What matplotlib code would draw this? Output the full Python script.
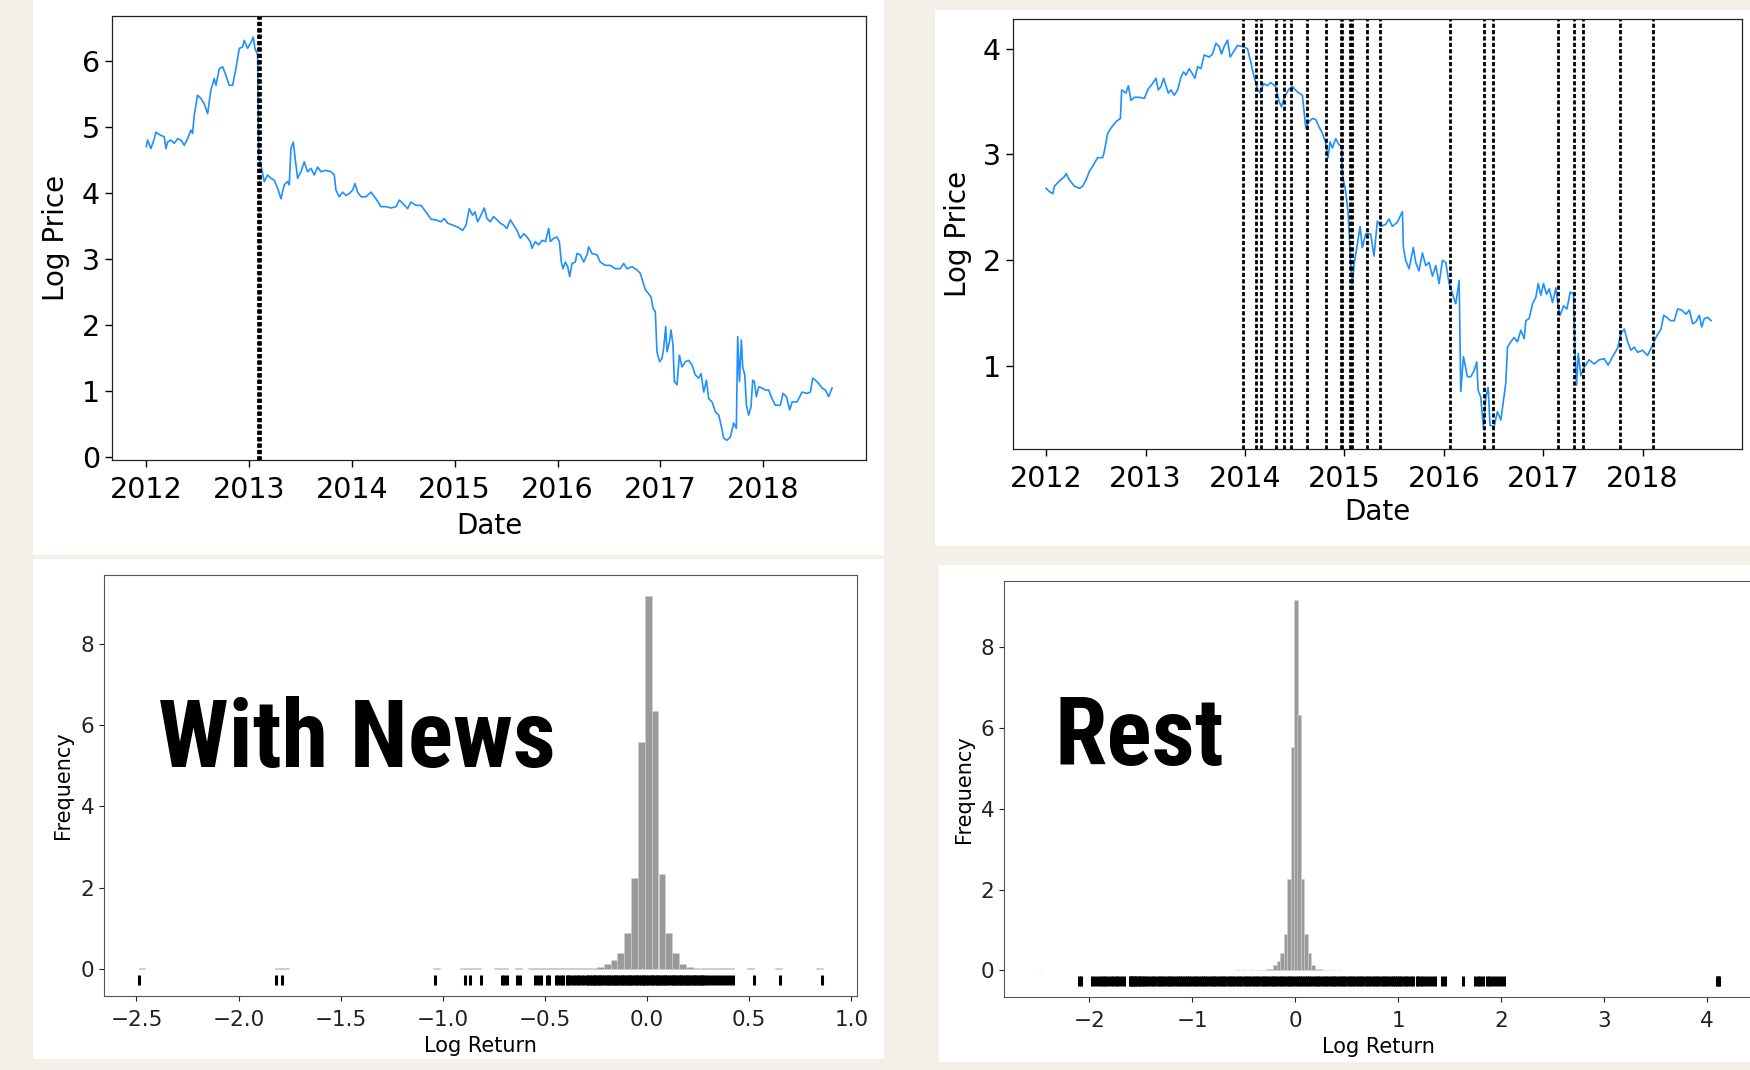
import matplotlib
matplotlib.use("Agg")
import matplotlib.pyplot as plt
from matplotlib.patches import Rectangle
from matplotlib import font_manager

W, H = 1750, 1070

# price path for the coin with one news day (decimal years, log price)
news_years = [2012.000, 2012.013, 2012.045, 2012.078, 2012.094, 2012.110, 2012.143, 2012.175,
              2012.191, 2012.208, 2012.240, 2012.272, 2012.305, 2012.337, 2012.370, 2012.402,
              2012.434, 2012.451, 2012.467, 2012.499, 2012.532, 2012.564, 2012.597, 2012.629,
              2012.661, 2012.678, 2012.710, 2012.743, 2012.775, 2012.807, 2012.840, 2012.872,
              2012.905, 2012.937, 2012.953, 2012.986, 2013.018, 2013.041, 2013.057, 2013.083,
              2013.093, 2013.115, 2013.148, 2013.180, 2013.213, 2013.245, 2013.278, 2013.310,
              2013.342, 2013.375, 2013.391, 2013.407, 2013.430, 2013.456, 2013.472, 2013.505,
              2013.537, 2013.569, 2013.602, 2013.634, 2013.667, 2013.699, 2013.748, 2013.796,
              2013.829, 2013.845, 2013.877, 2013.910, 2013.942, 2013.975, 2014.007, 2014.030,
              2014.056, 2014.088, 2014.137, 2014.186, 2014.234, 2014.283, 2014.331, 2014.380,
              2014.429, 2014.461, 2014.494, 2014.542, 2014.575, 2014.623, 2014.672, 2014.720,
              2014.769, 2014.818, 2014.866, 2014.899, 2014.931, 2014.980, 2015.029, 2015.077,
              2015.110, 2015.142, 2015.174, 2015.197, 2015.223, 2015.249, 2015.288, 2015.314,
              2015.346, 2015.379, 2015.411, 2015.444, 2015.476, 2015.508, 2015.541, 2015.573,
              2015.606, 2015.638, 2015.671, 2015.703, 2015.735, 2015.752, 2015.784, 2015.817,
              2015.849, 2015.882, 2015.914, 2015.930, 2015.962, 2015.995, 2016.018, 2016.037,
              2016.053, 2016.076, 2016.099, 2016.118, 2016.141, 2016.173, 2016.189, 2016.222,
              2016.254, 2016.287, 2016.303, 2016.335, 2016.384, 2016.416, 2016.465, 2016.514,
              2016.562, 2016.611, 2016.643, 2016.676, 2016.724, 2016.773, 2016.805, 2016.831,
              2016.854, 2016.886, 2016.909, 2016.929, 2016.951, 2016.967, 2016.993, 2017.016,
              2017.032, 2017.052, 2017.065, 2017.088, 2017.104, 2017.123, 2017.136, 2017.162,
              2017.185, 2017.211, 2017.243, 2017.276, 2017.308, 2017.340, 2017.373, 2017.396,
              2017.422, 2017.448, 2017.470, 2017.503, 2017.535, 2017.568, 2017.590, 2017.616,
              2017.649, 2017.681, 2017.713, 2017.739, 2017.752, 2017.769, 2017.788, 2017.801,
              2017.821, 2017.837, 2017.859, 2017.882, 2017.898, 2017.914, 2017.934, 2017.957,
              2017.989, 2018.021, 2018.054, 2018.086, 2018.119, 2018.167, 2018.193, 2018.226,
              2018.258, 2018.281, 2018.329, 2018.378, 2018.427, 2018.459, 2018.482, 2018.508,
              2018.540, 2018.573, 2018.605, 2018.637, 2018.670]
news_price = [4.70, 4.80, 4.67, 4.82, 4.92, 4.90, 4.87, 4.85,
              4.67, 4.77, 4.80, 4.75, 4.82, 4.80, 4.72, 4.82,
              4.95, 4.90, 5.18, 5.48, 5.43, 5.35, 5.20, 5.56,
              5.73, 5.63, 5.88, 5.91, 5.78, 5.63, 5.63, 5.88,
              6.19, 6.21, 6.31, 6.19, 6.28, 6.36, 6.19, 6.09,
              4.57, 4.42, 4.17, 4.27, 4.22, 4.19, 4.07, 3.91,
              4.12, 4.17, 4.12, 4.67, 4.77, 4.42, 4.22, 4.32,
              4.47, 4.32, 4.37, 4.27, 4.39, 4.32, 4.34, 4.32,
              4.27, 4.04, 3.94, 4.01, 3.96, 3.99, 4.04, 4.14,
              4.01, 3.94, 3.94, 4.01, 3.91, 3.79, 3.79, 3.77,
              3.79, 3.89, 3.84, 3.76, 3.86, 3.81, 3.81, 3.71,
              3.60, 3.59, 3.56, 3.61, 3.54, 3.51, 3.48, 3.43,
              3.51, 3.76, 3.66, 3.71, 3.56, 3.64, 3.77, 3.61,
              3.56, 3.64, 3.59, 3.54, 3.51, 3.46, 3.59, 3.51,
              3.43, 3.31, 3.38, 3.33, 3.26, 3.16, 3.26, 3.21,
              3.28, 3.26, 3.46, 3.26, 3.31, 3.33, 3.26, 2.95,
              2.85, 2.95, 2.88, 2.73, 2.93, 2.95, 3.08, 3.06,
              2.95, 3.06, 3.18, 3.08, 3.06, 2.95, 2.90, 2.90,
              2.85, 2.85, 2.93, 2.85, 2.88, 2.83, 2.78, 2.65,
              2.53, 2.47, 2.42, 2.25, 2.20, 1.59, 1.44, 1.49,
              1.64, 1.97, 1.59, 1.74, 1.92, 1.69, 1.14, 1.09,
              1.54, 1.36, 1.44, 1.46, 1.39, 1.24, 1.19, 1.26,
              0.98, 1.16, 0.88, 0.83, 0.68, 0.63, 0.48, 0.28,
              0.25, 0.30, 0.51, 0.43, 1.82, 1.14, 1.77, 1.36,
              1.24, 0.78, 0.63, 0.76, 1.16, 1.14, 0.91, 1.06,
              1.04, 1.01, 1.01, 0.88, 0.78, 0.78, 0.96, 0.91,
              0.71, 0.83, 0.83, 0.98, 0.96, 0.98, 1.19, 1.16,
              1.11, 1.04, 1.01, 0.91, 1.04]
news_events = [2013.086, 2013.094, 2013.102]

# price path for the other coins with many news days
rest_years = [2012.000, 2012.033, 2012.067, 2012.084, 2012.134, 2012.184, 2012.201, 2012.234,
              2012.285, 2012.335, 2012.368, 2012.402, 2012.435, 2012.469, 2012.519, 2012.569,
              2012.586, 2012.619, 2012.653, 2012.703, 2012.747, 2012.760, 2012.804, 2012.827,
              2012.854, 2012.887, 2012.938, 2012.988, 2013.028, 2013.071, 2013.105, 2013.128,
              2013.155, 2013.182, 2013.205, 2013.229, 2013.256, 2013.289, 2013.323, 2013.356,
              2013.383, 2013.406, 2013.440, 2013.473, 2013.497, 2013.524, 2013.557, 2013.590,
              2013.641, 2013.674, 2013.708, 2013.741, 2013.765, 2013.791, 2013.825, 2013.852,
              2013.885, 2013.925, 2013.976, 2014.026, 2014.059, 2014.093, 2014.126, 2014.153,
              2014.187, 2014.227, 2014.260, 2014.310, 2014.344, 2014.367, 2014.401, 2014.444,
              2014.478, 2014.528, 2014.578, 2014.612, 2014.645, 2014.679, 2014.713, 2014.746,
              2014.779, 2014.813, 2014.836, 2014.856, 2014.880, 2014.913, 2014.947, 2014.973,
              2014.980, 2015.014, 2015.037, 2015.064, 2015.081, 2015.097, 2015.131, 2015.158,
              2015.181, 2015.215, 2015.265, 2015.298, 2015.332, 2015.365, 2015.416, 2015.449,
              2015.483, 2015.533, 2015.584, 2015.594, 2015.617, 2015.651, 2015.694, 2015.718,
              2015.751, 2015.785, 2015.819, 2015.852, 2015.886, 2015.920, 2015.953, 2015.987,
              2016.020, 2016.054, 2016.088, 2016.121, 2016.155, 2016.171, 2016.198, 2016.238,
              2016.272, 2016.306, 2016.332, 2016.346, 2016.372, 2016.399, 2016.423, 2016.446,
              2016.466, 2016.507, 2016.540, 2016.574, 2016.601, 2016.624, 2016.641, 2016.674,
              2016.708, 2016.742, 2016.775, 2016.809, 2016.826, 2016.859, 2016.893, 2016.926,
              2016.950, 2016.977, 2017.003, 2017.034, 2017.061, 2017.094, 2017.128, 2017.151,
              2017.171, 2017.205, 2017.239, 2017.272, 2017.306, 2017.319, 2017.336, 2017.353,
              2017.379, 2017.413, 2017.463, 2017.513, 2017.564, 2017.614, 2017.654, 2017.698,
              2017.749, 2017.782, 2017.816, 2017.849, 2017.883, 2017.916, 2017.950, 2017.999,
              2018.050, 2018.101, 2018.134, 2018.158, 2018.185, 2018.212, 2018.245, 2018.279,
              2018.319, 2018.353, 2018.393, 2018.437, 2018.470, 2018.504, 2018.537, 2018.571,
              2018.595, 2018.621, 2018.655, 2018.689]
rest_price = [2.68, 2.65, 2.63, 2.70, 2.75, 2.79, 2.82, 2.76,
              2.70, 2.68, 2.70, 2.76, 2.84, 2.89, 2.97, 2.97,
              3.03, 3.20, 3.25, 3.31, 3.34, 3.61, 3.58, 3.65,
              3.51, 3.54, 3.54, 3.53, 3.62, 3.67, 3.72, 3.61,
              3.64, 3.72, 3.65, 3.58, 3.61, 3.56, 3.61, 3.73,
              3.78, 3.75, 3.81, 3.76, 3.72, 3.83, 3.81, 3.94,
              3.92, 3.95, 4.05, 4.02, 3.95, 4.02, 4.08, 3.92,
              3.97, 4.03, 4.02, 4.00, 3.87, 3.73, 3.62, 3.58,
              3.67, 3.65, 3.68, 3.64, 3.50, 3.45, 3.55, 3.62,
              3.64, 3.59, 3.56, 3.25, 3.31, 3.34, 3.33, 3.26,
              3.20, 3.11, 2.97, 3.12, 3.06, 3.15, 3.09, 3.08,
              2.81, 2.65, 2.46, 1.96, 1.78, 1.96, 2.15, 2.32,
              2.12, 2.25, 2.25, 2.04, 2.37, 2.32, 2.34, 2.39,
              2.32, 2.36, 2.46, 2.12, 2.00, 1.92, 2.12, 1.98,
              1.90, 2.07, 1.95, 1.98, 1.85, 1.95, 1.78, 2.00,
              1.98, 1.78, 1.68, 1.59, 1.81, 0.76, 1.09, 0.90,
              0.90, 0.96, 1.04, 0.77, 0.71, 0.41, 0.71, 0.80,
              0.44, 0.43, 0.57, 0.49, 0.68, 0.84, 1.18, 1.23,
              1.27, 1.23, 1.34, 1.26, 1.43, 1.45, 1.59, 1.65,
              1.78, 1.67, 1.78, 1.68, 1.73, 1.60, 1.74, 1.56,
              1.48, 1.57, 1.54, 1.70, 1.68, 1.15, 0.82, 1.12,
              0.91, 0.99, 1.06, 1.02, 1.06, 1.07, 1.01, 1.09,
              1.17, 1.31, 1.35, 1.23, 1.15, 1.18, 1.13, 1.15,
              1.10, 1.20, 1.27, 1.31, 1.35, 1.48, 1.46, 1.43,
              1.43, 1.54, 1.53, 1.49, 1.53, 1.40, 1.42, 1.48,
              1.37, 1.45, 1.46, 1.43]
rest_events = [2013.976, 2014.109, 2014.160, 2014.310, 2014.394, 2014.461, 2014.622,
               2014.813, 2014.962, 2014.978, 2015.058, 2015.072, 2015.231, 2015.359,
               2016.063, 2016.406, 2016.493, 2017.145, 2017.313, 2017.396, 2017.772,
               2018.101]

year_ticks = [2012, 2013, 2014, 2015, 2016, 2017, 2018]

# return histograms (density), bins of width 0.0335
bin_width = 0.0335
news_bins = [-2.473, -1.803, -1.770, -1.033, -0.899, -0.866, -0.832, -0.732, -0.698,
             -0.631, -0.564, -0.531, -0.497, -0.464, -0.430, -0.396, -0.363, -0.329,
             -0.296, -0.262, -0.229, -0.195, -0.162, -0.128, -0.095, -0.061, -0.028,
             0.006, 0.039, 0.073, 0.106, 0.140, 0.173, 0.207, 0.240, 0.274, 0.307,
             0.341, 0.374, 0.408, 0.508, 0.642, 0.843]
news_freq = [0.02, 0.02, 0.02, 0.02, 0.02, 0.02, 0.02, 0.04, 0.02,
             0.02, 0.02, 0.04, 0.02, 0.02, 0.04, 0.04, 0.02, 0.02,
             0.03, 0.02, 0.05, 0.13, 0.22, 0.40, 0.90, 2.25, 5.58,
             9.17, 6.35, 2.33, 0.90, 0.40, 0.13, 0.06, 0.03, 0.03, 0.02,
             0.02, 0.02, 0.02, 0.02, 0.02, 0.02]
rest_bins = [-2.473, -0.564, -0.497, -0.430, -0.363, -0.329, -0.296, -0.262, -0.229,
             -0.195, -0.162, -0.128, -0.095, -0.061, -0.028, 0.006, 0.039, 0.073,
             0.106, 0.140, 0.173, 0.207, 0.240, 0.274, 0.307, 0.374, 0.441]
rest_freq = [0.01, 0.01, 0.01, 0.01, 0.02, 0.02, 0.02, 0.03, 0.03,
             0.12, 0.22, 0.42, 0.90, 2.26, 5.54, 9.17, 6.32, 2.26,
             0.90, 0.42, 0.12, 0.04, 0.03, 0.02, 0.02, 0.01, 0.01]

# rug of individual log returns
news_rug = [-2.488, -1.818, -1.787, -1.040, -0.893, -0.869, -0.814, -0.712, -0.698,
            -0.684, -0.637, -0.622, -0.549, -0.532, -0.518, -0.492, -0.482, -0.447,
            -0.437, -0.423, -0.411, -0.394, -0.385, -0.375, -0.363, -0.352, -0.340,
            -0.331, -0.318, -0.309, -0.296, -0.288, -0.279, -0.271, -0.262, -0.254,
            -0.245, -0.236, -0.228, -0.219, -0.211, -0.202, -0.193, -0.185, -0.176,
            -0.168, -0.159, -0.150, -0.142, -0.133, -0.125, -0.116, -0.107, -0.099,
            -0.090, -0.082, -0.073, -0.064, -0.056, -0.047, -0.039, -0.030, -0.021,
            -0.013, -0.004, 0.004, 0.013, 0.022, 0.030, 0.039, 0.047, 0.056, 0.065,
            0.073, 0.082, 0.090, 0.099, 0.108, 0.116, 0.125, 0.133, 0.142, 0.151,
            0.159, 0.168, 0.176, 0.185, 0.194, 0.202, 0.211, 0.219, 0.228, 0.237,
            0.245, 0.254, 0.262, 0.270, 0.277, 0.289, 0.304, 0.318, 0.332, 0.346,
            0.361, 0.377, 0.391, 0.408, 0.422, 0.524, 0.652, 0.859]
rest_rug = [-2.105, -2.082, -1.971, -1.943, -1.919, -1.891, -1.868, -1.845, -1.817,
            -1.794, -1.766, -1.743, -1.720, -1.692, -1.664, -1.608, -1.597, -1.585,
            -1.570, -1.556, -1.540, -1.521, -1.505, -1.488, -1.470, -1.448, -1.426,
            -1.404, -1.382, -1.360, -1.338, -1.316, -1.294, -1.272, -1.250, -1.228,
            -1.206, -1.184, -1.162, -1.140, -1.118, -1.096, -1.074, -1.052, -1.030,
            -1.008, -0.986, -0.964, -0.942, -0.920, -0.898, -0.876, -0.854, -0.832,
            -0.810, -0.788, -0.766, -0.744, -0.722, -0.700, -0.678, -0.656, -0.634,
            -0.612, -0.590, -0.568, -0.546, -0.524, -0.502, -0.480, -0.458, -0.436,
            -0.414, -0.392, -0.370, -0.348, -0.326, -0.304, -0.282, -0.260, -0.238,
            -0.216, -0.194, -0.172, -0.150, -0.128, -0.106, -0.084, -0.062, -0.040,
            -0.018, 0.004, 0.026, 0.048, 0.070, 0.092, 0.114, 0.136, 0.158, 0.180,
            0.202, 0.224, 0.246, 0.268, 0.290, 0.312, 0.334, 0.356, 0.378, 0.400,
            0.422, 0.444, 0.466, 0.488, 0.510, 0.532, 0.554, 0.576, 0.598, 0.620,
            0.642, 0.664, 0.686, 0.708, 0.730, 0.752, 0.774, 0.796, 0.818, 0.840,
            0.862, 0.884, 0.906, 0.928, 0.950, 0.972, 0.990, 1.010, 1.030, 1.060,
            1.080, 1.100, 1.125, 1.150, 1.181, 1.195, 1.219, 1.246, 1.274, 1.302,
            1.330, 1.358, 1.423, 1.460, 1.632, 1.748, 1.775, 1.800, 1.830, 1.860,
            1.885, 1.910, 1.940, 1.970, 2.000, 2.027, 4.100, 4.110, 4.120]


def pick_big_font():
    # a bold narrow face is closest to the pasted-in labels
    fl = font_manager.fontManager.ttflist
    for f in fl:
        if f.name in ('Liberation Sans Narrow', 'Arial Narrow') and f.weight in ('bold', 700):
            return font_manager.FontProperties(fname=f.fname, size=70)
    for f in fl:
        if f.name == 'Roboto Condensed' and f.weight in ('bold', 700):
            return font_manager.FontProperties(fname=f.fname, size=68)
    for f in fl:
        if (f.name in ('Noto Sans', 'Open Sans', 'Roboto', 'Lato')
                and f.stretch in ('condensed', 'extra-condensed', 'semi-condensed')
                and f.weight in ('bold', 700) and f.style == 'normal'):
            return font_manager.FontProperties(fname=f.fname, size=68)
    return font_manager.FontProperties(family='Liberation Sans', weight='bold', size=58)


big_font = pick_big_font()

fig = plt.figure(figsize=(W / 100, H / 100), dpi=100, facecolor='#f3f0e8')


def px(l, t, r, b):
    return [l / W, 1 - b / H, (r - l) / W, (b - t) / H]


# white screenshot panels
for box in [(33, 0, 884, 555), (935, 10, 1750, 546), (33, 559, 884, 1059), (939, 565, 1750, 1062)]:
    l, t, r, b = box
    fig.add_artist(Rectangle((l / W, 1 - b / H), (r - l) / W, (b - t) / H,
                             transform=fig.transFigure, facecolor='white',
                             edgecolor='none', zorder=-1))


def set_label_px(ax, box, xlab, ylab, size):
    l, t, r, b = box
    ax.set_xlabel(xlab[0], fontsize=size, va='center', ha='center')
    ax.set_ylabel(ylab[0], fontsize=size, va='center', ha='center')
    ax.xaxis.set_label_coords((xlab[1] - l) / (r - l), (b - xlab[2]) / (b - t))
    ax.yaxis.set_label_coords((ylab[1] - l) / (r - l), (b - ylab[2]) / (b - t))


def price_panel(box, years, price, events, ylim, yticks, xlab, ylab):
    ax = fig.add_axes(px(*box))
    ax.plot(years, price, color='dodgerblue', lw=1.2)
    for e in events:
        ax.axvline(e, color='black', lw=2.0, linestyle=(0, (1.5, 0.8)))
    ax.set_xlim(2011.667, 2019.0)
    ax.set_ylim(*ylim)
    ax.set_xticks(year_ticks)
    ax.set_xticklabels([str(y) for y in year_ticks])
    ax.set_yticks(yticks)
    ax.tick_params(labelsize=20.5, length=5, width=1, colors='black')
    ax.tick_params(axis='x', pad=6.5)
    for s in ax.spines.values():
        s.set_linewidth(0.9)
        s.set_color('#222222')
    set_label_px(ax, box, xlab, ylab, 20)
    return ax


price_panel((112, 16, 866, 460), news_years, news_price, news_events,
            (-0.05, 6.68), [0, 1, 2, 3, 4, 5, 6], ('Date', 489, 526), ('Log Price', 56, 238))
price_panel((1013, 19, 1742, 449), rest_years, rest_price, rest_events,
            (0.217, 4.28), [1, 2, 3, 4], ('Date', 1377, 512), ('Log Price', 958, 234))


def return_panel(box, bins, freq, rug, xlim, ylim, xticks, xlab, ylab):
    ax = fig.add_axes(px(*box))
    ax.bar(bins, freq, width=bin_width, color='#9a9a9a', edgecolor='#d0d0d0', linewidth=0.4)
    ax.plot(rug, [-0.26] * len(rug), linestyle='none', marker='|', color='black',
            markersize=6.8, markeredgewidth=2.2)
    ax.set_xlim(*xlim)
    ax.set_ylim(*ylim)
    ax.set_xticks(xticks)
    ax.set_yticks([0, 2, 4, 6, 8])
    ax.tick_params(labelsize=15.5, length=3.5, width=0.8, colors='#222222')
    ax.tick_params(axis='x', pad=6.5)
    for s in ax.spines.values():
        s.set_linewidth(0.8)
        s.set_color('#555555')
    set_label_px(ax, box, xlab, ylab, 15)
    return ax


return_panel((104, 575, 857, 996), news_bins, news_freq, news_rug,
             (-2.659, 1.028), (-0.66, 9.69), [-2.5, -2.0, -1.5, -1.0, -0.5, 0.0, 0.5, 1.0],
             ('Log Return', 480, 1046), ('Frequency', 63, 785))
return_panel((1004, 581, 1752, 997), rest_bins, rest_freq, rest_rug,
             (-2.83, 4.44), (-0.66, 9.64), [-2, -1, 0, 1, 2, 3, 4],
             ('Log Return', 1378, 1047), ('Frequency', 964, 789))

fig.text(158 / W, 1 - 767 / H, 'With News', va='baseline', ha='left', color='black',
         fontproperties=big_font)
fig.text(1054 / W, 1 - 765 / H, 'Rest', va='baseline', ha='left', color='black',
         fontproperties=big_font)

fig.savefig('out.png', dpi=100, facecolor=fig.get_facecolor())
